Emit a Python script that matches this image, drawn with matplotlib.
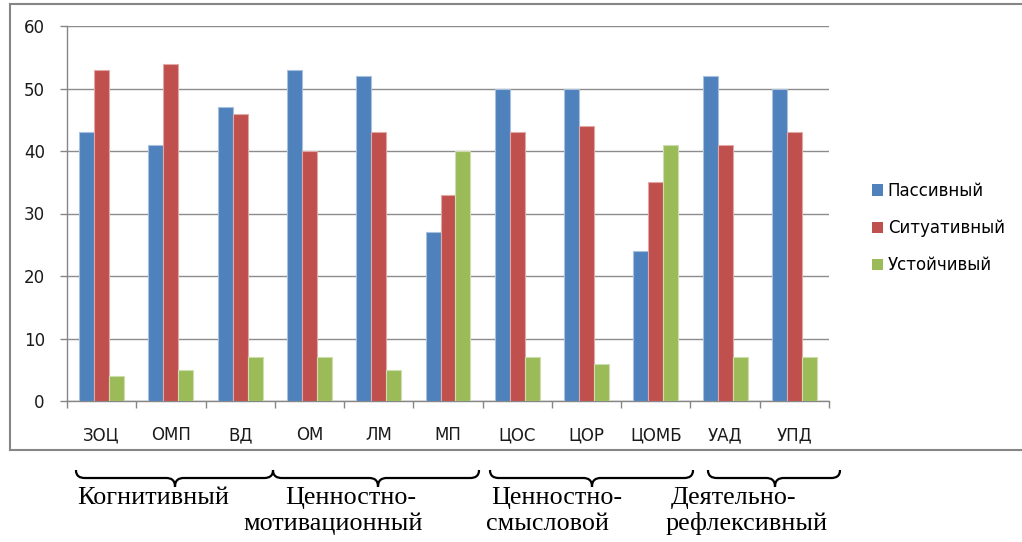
import matplotlib
matplotlib.use("Agg")
import matplotlib.pyplot as plt
import numpy as np
from matplotlib.path import Path
from matplotlib.patches import PathPatch, Patch
from matplotlib.lines import Line2D

categories = ["ЗОЦ", "ОМП", "ВД", "ОМ", "ЛМ", "МП", "ЦОС", "ЦОР", "ЦОМБ", "УАД", "УПД"]
passive = [43, 41, 47, 53, 52, 27, 50, 50, 24, 52, 50]
situational = [53, 54, 46, 40, 43, 33, 43, 44, 35, 41, 43]
stable = [4, 5, 7, 7, 5, 40, 7, 6, 41, 7, 7]
series_names = ["Пассивный", "Ситуативный", "Устойчивый"]
colors = ["#4F81BD", "#C0504D", "#9BBB59"]
edge_colors = ["#A7C0DE", "#E0A8A6", "#CDDDAC"]
y_ticks = [0, 10, 20, 30, 40, 50, 60]

W, H = 1022, 542
fig = plt.figure(figsize=(W / 100, H / 100), dpi=100)

def fx(x):
    return x / W

def fy(y):
    return 1 - y / H

ax = fig.add_axes([fx(67), fy(401), fx(829) - fx(67), fy(26) - fy(401)])

x = np.arange(len(categories))
bw = 0.216
for k, (vals, c, ec, name) in enumerate(zip([passive, situational, stable], colors, edge_colors, series_names)):
    ax.bar(x + (k - 1) * bw, vals, width=bw, color=c, edgecolor=ec, linewidth=0.8, label=name, zorder=3)

ax.set_xlim(-0.5, len(categories) - 0.5)
ax.set_ylim(0, 60)
ax.set_yticks(y_ticks)
ax.yaxis.grid(True, color="#8c8c8c", linewidth=1.0, zorder=0)
ax.set_axisbelow(True)
for s in ["top", "right"]:
    ax.spines[s].set_visible(False)
for s in ["left", "bottom"]:
    ax.spines[s].set_color("#868686")
    ax.spines[s].set_linewidth(1.0)

tick_font = dict(family="DejaVu Sans", size=12, color="#1a1a1a")
ax.set_xticks(x)
ax.set_xticklabels(categories, **tick_font)
ax.set_yticklabels([str(v) for v in y_ticks], **tick_font)
ax.tick_params(axis="x", which="major", length=0, pad=18)
ax.set_xticks(np.arange(-0.5, len(categories), 1.0), minor=True)
ax.tick_params(axis="x", which="minor", length=5, color="#868686", width=1.0)
ax.tick_params(axis="y", which="major", length=5, color="#868686", width=1.0, pad=11)

handles = [Patch(facecolor=c, edgecolor="none") for c in colors]
leg = fig.legend(handles, series_names, loc="center left",
                 bbox_to_anchor=(fx(857), fy(228)), frameon=False,
                 prop={"family": "DejaVu Sans", "size": 12},
                 handlelength=0.65, handleheight=0.65, handletextpad=0.3,
                 labelspacing=1.15)

# chart area border
border_color = "#868686"
fig.add_artist(Line2D([fx(10), fx(10)], [fy(4), fy(450)], color=border_color, lw=1.5, transform=fig.transFigure))
fig.add_artist(Line2D([fx(10), 1.0], [fy(4), fy(4)], color=border_color, lw=1.5, transform=fig.transFigure))
fig.add_artist(Line2D([fx(10), 1.0], [fy(450), fy(450)], color=border_color, lw=1.5, transform=fig.transFigure))

def brace(x0, x1, xc, yt=470, ym=478, yb=487, r=9):
    pts = [
        (x0, yt),
        (x0, ym - 2), (x0 + r * 0.4, ym), (x0 + r, ym),
        (xc - r, ym),
        (xc - r * 0.4, ym), (xc, ym + 2), (xc, yb),
        (xc, ym + 2), (xc + r * 0.4, ym), (xc + r, ym),
        (x1 - r, ym),
        (x1 - r * 0.4, ym), (x1, ym - 2), (x1, yt),
    ]
    codes = [Path.MOVETO,
             Path.CURVE4, Path.CURVE4, Path.CURVE4,
             Path.LINETO,
             Path.CURVE4, Path.CURVE4, Path.CURVE4,
             Path.CURVE4, Path.CURVE4, Path.CURVE4,
             Path.LINETO,
             Path.CURVE4, Path.CURVE4, Path.CURVE4]
    p = Path([(fx(a), fy(b)) for a, b in pts], codes)
    fig.add_artist(PathPatch(p, facecolor="none", edgecolor="black", lw=1.6, transform=fig.transFigure))

brace(76, 273, 175)
brace(273, 479, 378)
brace(490, 693, 592)
brace(708, 840, 775)

serif = dict(family="Liberation Serif", size=18.8, color="black", ha="center", va="baseline")
group_lines = [
    ("Когнитивный", 153, 504),
    ("Ценностно-", 351, 504),
    ("мотивационный", 333, 530),
    ("Ценностно-", 557, 504),
    ("смысловой", 547, 530),
    ("Деятельно-", 734, 504),
    ("рефлексивный", 747, 530),
]
for t, cx, by in group_lines:
    fig.text(fx(cx), fy(by), t, **serif)

fig.savefig("out.png", dpi=100)
